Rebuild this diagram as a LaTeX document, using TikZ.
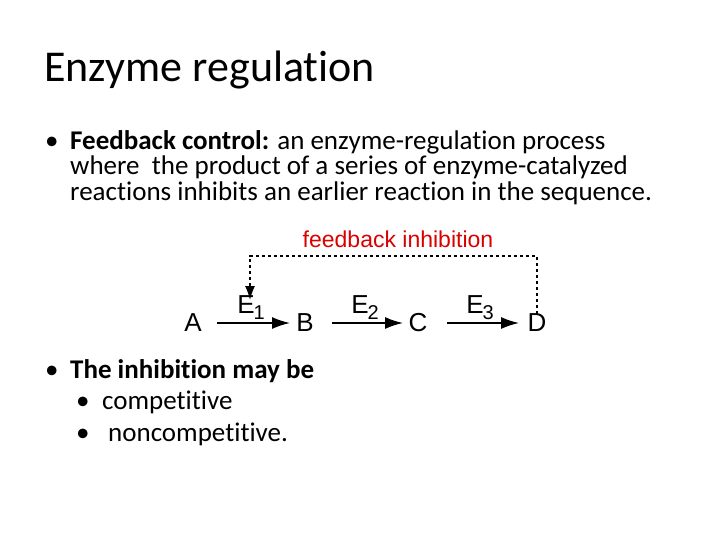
\documentclass[tikz,border=0pt]{standalone}
\usepackage{fontspec}
\setmainfont[Ligatures=NoCommon]{Carlito}
\newfontfamily\arial{Liberation Sans}
\usetikzlibrary{arrows.meta}
\newcommand{\esub}[1]{E\kern-1pt\raisebox{-6pt}{\fontsize{20}{20}\selectfont #1}}
\begin{document}
\begin{tikzpicture}[x=1pt,y=-1pt,
  txt/.style={anchor=base west,inner sep=0pt,font=\fontsize{27}{28}\selectfont},
  lbl/.style={inner sep=0pt,font=\arial\fontsize{26}{28}\selectfont},
  rx/.style={-{Latex[length=18pt,width=12pt]},line width=1.6pt},
  fb/.style={dashed,line width=1.3pt,-{Latex[length=14pt,width=10pt]}}]
\useasboundingbox (0,0) rectangle (720,540);
\node[txt,font=\fontsize{44}{48}\selectfont] (title) at (44,82) {Enzyme regulation};
\node[txt] (b1) at (45,150) {•};
\node[txt] (l1) at (70,150) {\textbf{Feedback control:} an enzyme-regulation process};
\node[txt] (l2) at (70,175) {where\ \ the product of a series of enzyme-catalyzed};
\node[txt] (l3) at (70,201) {reactions inhibits an earlier reaction in the sequence.};
\node[txt] (b2) at (45,378) {•};
\node[txt] (l4) at (70,378) {\textbf{The inhibition may be}};
\node[txt] (b3) at (76,409) {•};
\node[txt] (l5) at (102,409) {competitive};
\node[txt] (b4) at (76,441) {•};
\node[txt] (l6) at (108,441) {noncompetitive.};
\node[lbl] (A) at (193,323) {A};
\node[lbl] (B) at (305,323) {B};
\node[lbl] (C) at (418,323) {C};
\node[lbl] (D) at (537,323) {D};
\node[lbl] (E1) at (251,308) {\esub{1}};
\node[lbl] (E2) at (365,308) {\esub{2}};
\node[lbl] (E3) at (480,308) {\esub{3}};
\node[lbl,font=\arial\fontsize{23}{25}\selectfont,text=red!85!black] (fbt) at (398,239) {feedback inhibition};
\draw[rx] (217,323) -- (290,323);
\draw[rx] (332,323) -- (403,323);
\draw[rx] (447,323) -- (519,323);
\coordinate (k1) at (537,256);
\coordinate (k2) at (250,256);
\coordinate (k3) at (250,300);
\draw[fb] (D.north) -- (k1) -- (k2) -- (k3);
\end{tikzpicture}
\end{document}
